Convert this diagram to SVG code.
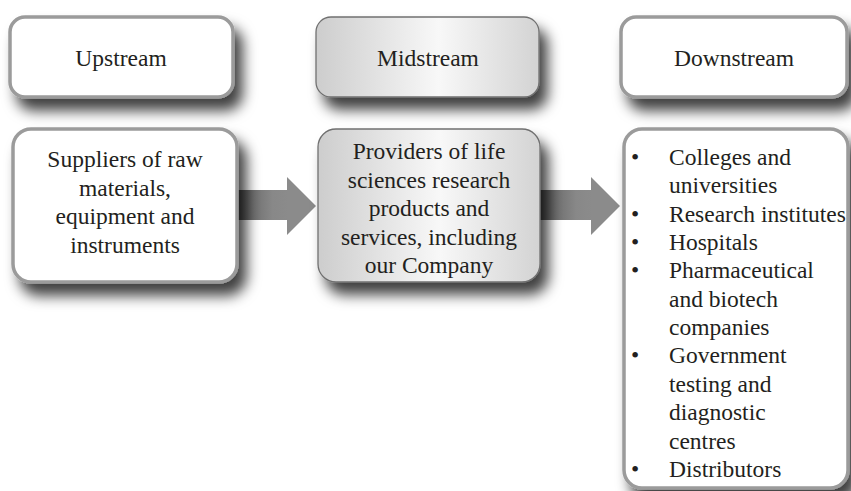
<svg xmlns="http://www.w3.org/2000/svg" width="851" height="491" viewBox="0 0 851 491">
<defs>
<filter id="sh" x="-20%" y="-20%" width="150%" height="170%">
<feDropShadow dx="8" dy="12" stdDeviation="7" flood-color="#000" flood-opacity="0.75"/>
</filter>
<linearGradient id="grey" x1="0" y1="0" x2="1" y2="0">
<stop offset="0" stop-color="#cdcdcd"/>
<stop offset="0.55" stop-color="#f8f8f8"/>
<stop offset="1" stop-color="#d3d3d3"/>
</linearGradient>
<linearGradient id="shaft" x1="0" y1="0" x2="1" y2="0">
<stop offset="0" stop-color="#5c5c5c"/>
<stop offset="0.7" stop-color="#888"/>
<stop offset="1" stop-color="#8b8b8b"/>
</linearGradient>
</defs>
<style>
.w{fill:#fff;stroke:#9b9b9b;stroke-width:3.5}
.g{fill:url(#grey);stroke:#707070;stroke-width:1.3}
.t{font-family:'Liberation Serif','Times New Roman',Times,serif;font-size:23.5px;fill:#231f20}
.c{text-anchor:middle}
.head{fill:#8b8b8b}
</style>
<rect width="851" height="491" fill="#fff"/>
<g id="connectors">
<g id="arrow1"><rect x="236" y="190" width="52" height="30" fill="url(#shaft)"/><polygon class="head" points="287,177 316,206 287,235"/></g>
<g id="arrow2"><rect x="539" y="190" width="53" height="30" fill="url(#shaft)"/><polygon class="head" points="591,177 620,206 591,235"/></g>
</g>
<g id="upstream"><rect class="w" x="10" y="17" width="223" height="80" rx="15" filter="url(#sh)"/><text class="t c" font-family="Liberation Serif" x="121" y="66">Upstream</text></g>
<g id="midstream"><rect class="g" x="316" y="17" width="223" height="80" rx="15" filter="url(#sh)"/><text class="t c" font-family="Liberation Serif" x="428" y="66">Midstream</text></g>
<g id="downstream"><rect class="w" x="621" y="17" width="226" height="80" rx="15" filter="url(#sh)"/><text class="t c" font-family="Liberation Serif" x="734" y="66">Downstream</text></g>
<g id="suppliers" class="t" font-family="Liberation Serif"><rect class="w" x="13" y="129" width="224" height="153" rx="18" filter="url(#sh)"/>
<text class="c" x="125" y="167">Suppliers of raw</text>
<text class="c" x="125" y="195.5">materials,</text>
<text class="c" x="125" y="224">equipment and</text>
<text class="c" x="125" y="252.5">instruments</text></g>
<g id="providers" class="t" font-family="Liberation Serif"><rect class="g" x="318" y="129" width="222" height="153" rx="18" filter="url(#sh)"/>
<text class="c" x="429" y="159">Providers of life</text>
<text class="c" x="429" y="187.5">sciences research</text>
<text class="c" x="429" y="216">products and</text>
<text class="c" x="429" y="244.5">services, including</text>
<text class="c" x="429" y="273">our Company</text></g>
<g id="customers" class="t" font-family="Liberation Serif"><rect class="w" x="624" y="129" width="224" height="359" rx="18" filter="url(#sh)"/>
<text x="631" y="165">•</text><text x="669" y="165">Colleges and</text>
<text x="669" y="193.4">universities</text>
<text x="631" y="221.7">•</text><text x="669" y="221.7">Research institutes</text>
<text x="631" y="250">•</text><text x="669" y="250">Hospitals</text>
<text x="631" y="278.4">•</text><text x="669" y="278.4">Pharmaceutical</text>
<text x="669" y="306.7">and biotech</text>
<text x="669" y="335">companies</text>
<text x="631" y="363.4">•</text><text x="669" y="363.4">Government</text>
<text x="669" y="391.8">testing and</text>
<text x="669" y="420">diagnostic</text>
<text x="669" y="448.5">centres</text>
<text x="631" y="476.8">•</text><text x="669" y="476.8">Distributors</text></g>
</svg>
